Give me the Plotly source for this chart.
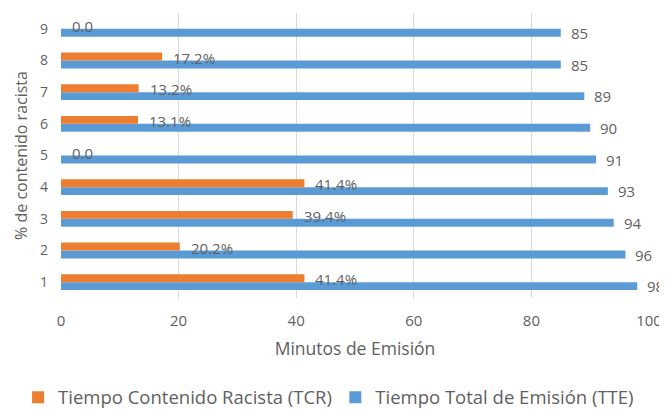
import plotly.graph_objects as go

categories = [1, 2, 3, 4, 5, 6, 7, 8, 9]
tcr_values = [41.4, 20.2, 39.4, 41.4, 0.0, 13.1, 13.2, 17.2, 0.0]
tcr_labels = ["41.4%", "20.2%", "39.4%", "41.4%", "0.0", "13.1%", "13.2%", "17.2%", "0.0"]
tte_values = [98, 96, 94, 93, 91, 90, 89, 85, 85]
tte_labels = ["98", "96", "94", "93", "91", "90", "89", "85", "85"]
x_ticks = [0, 20, 40, 60, 80, 100]

ORANGE = "#ED7D31"
BLUE = "#5B9BD5"
TXT = "#5f5f5f"
FONT = "Open Sans"

fig = go.Figure()
fig.add_trace(go.Bar(
    y=categories, x=tte_values, orientation="h", name="Tiempo Total de Emisión (TTE)",
    marker=dict(color=BLUE, line=dict(width=0)), legend="legend2",
))
fig.add_trace(go.Bar(
    y=categories, x=tcr_values, orientation="h", name="Tiempo Contenido Racista (TCR)",
    marker=dict(color=ORANGE, line=dict(width=0)), legend="legend",
))

annotations = []
for c, v, t in zip(categories, tcr_values, tcr_labels):
    annotations.append(dict(x=v, y=c, text=t, showarrow=False, xanchor="left", yanchor="middle",
                            xshift=9, yshift=3, font=dict(size=15, color=TXT, family=FONT)))
for c, v, t in zip(categories, tte_values, tte_labels):
    annotations.append(dict(x=v, y=c, text=t, showarrow=False, xanchor="left", yanchor="middle",
                            xshift=8, yshift=-4, font=dict(size=15, color=TXT, family=FONT)))

legend_style = dict(orientation="h", xanchor="left", y=-0.35, yanchor="middle",
                    font=dict(size=18.5, color=TXT, family=FONT), itemwidth=30,
                    bgcolor="rgba(0,0,0,0)")

fig.update_layout(
    width=659, height=403,
    margin=dict(l=53, r=18, t=5, b=113, autoexpand=False),
    paper_bgcolor="white", plot_bgcolor="white",
    barmode="group", bargap=0.5, bargroupgap=0,
    font=dict(family=FONT, color=TXT, size=14),
    annotations=annotations,
    showlegend=True,
    legend=dict(x=-0.073, **legend_style),
    legend2=dict(x=0.4665, **legend_style),
    xaxis=dict(range=[0, 100], tickvals=x_ticks, showgrid=True, gridcolor="#D9D9D9", gridwidth=1,
               zeroline=False, showline=False, ticks="", automargin=False,
               ticklabelstandoff=12,
               tickfont=dict(size=15, color=TXT),
               title=dict(text="Minutos de Emisión", font=dict(size=17.5, color=TXT), standoff=13)),
    yaxis=dict(range=[0.5, 9.5], tickvals=categories, showgrid=False, zeroline=False,
               showline=False, ticks="", automargin=False, tickfont=dict(size=14, color=TXT),
               ticklabelstandoff=12,
               title=dict(text="% de contenido racista", font=dict(size=16, color=TXT), standoff=8)),
)

fig.write_html("out.html")
